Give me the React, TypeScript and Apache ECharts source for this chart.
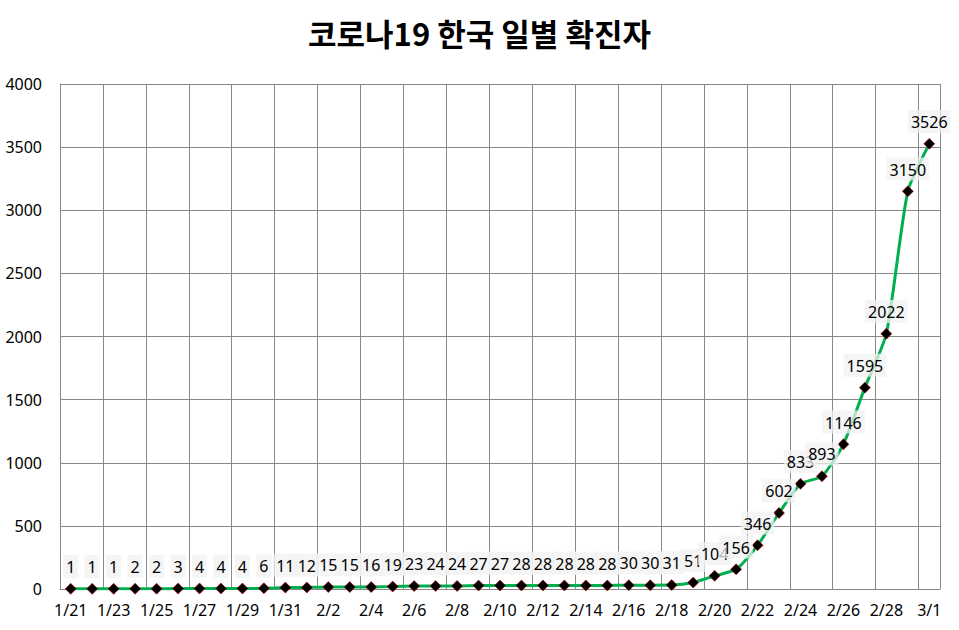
import React, { useEffect, useRef } from "react";
import * as echarts from "echarts";

const categories = [
  "1/21","1/22","1/23","1/24","1/25","1/26","1/27","1/28","1/29","1/30","1/31",
  "2/1","2/2","2/3","2/4","2/5","2/6","2/7","2/8","2/9","2/10","2/11","2/12","2/13","2/14",
  "2/15","2/16","2/17","2/18","2/19","2/20","2/21","2/22","2/23","2/24","2/25","2/26","2/27",
  "2/28","2/29","3/1",
];
const confirmed = [
  1, 1, 1, 2, 2, 3, 4, 4, 4, 6, 11, 12, 15, 15, 16, 19, 23, 24, 24, 27,
  27, 28, 28, 28, 28, 28, 30, 30, 31, 51, 104, 156, 346, 602, 833, 893, 1146, 1595, 2022, 3150,
  3526,
];
const title = "코로나19 한국 일별 확진자";

export default function App() {
  const ref = useRef<HTMLDivElement>(null);
  useEffect(() => {
    if (!ref.current) return;
    const chart = echarts.init(ref.current, null, { renderer: "svg" });
    const font = "'Noto Sans', sans-serif";
    chart.setOption({
      animation: false,
      backgroundColor: "#ffffff",
      title: {
        text: title,
        left: "center",
        top: 12,
        textStyle: {
          fontFamily: "'Noto Sans CJK KR', sans-serif",
          fontSize: 31,
          fontWeight: "bold",
          color: "#000",
        },
      },
      grid: { left: 60, top: 84, right: 19, bottom: 41, containLabel: false },
      xAxis: {
        type: "category",
        data: categories,
        boundaryGap: true,
        axisLine: { lineStyle: { color: "#888", width: 1 } },
        axisTick: { show: false, interval: 1 },
        axisLabel: {
          interval: 1,
          color: "#000",
          fontFamily: font,
          fontSize: 16,
          margin: 13,
        },
        splitLine: { show: true, interval: 1, lineStyle: { color: "#888", width: 1 } },
      },
      yAxis: {
        type: "value",
        min: 0,
        max: 4000,
        interval: 500,
        axisLine: { show: true, lineStyle: { color: "#888", width: 1 } },
        axisTick: { show: false },
        axisLabel: {
          color: "#000",
          fontFamily: font,
          fontSize: 16,
          margin: 18,
          formatter: (v: number) => String(v),
        },
        splitLine: { lineStyle: { color: "#888", width: 1 } },
      },
      series: [
        {
          type: "line",
          data: confirmed,
          smooth: 0.2,
          symbol: "diamond",
          symbolSize: 11,
          lineStyle: { color: "#00b050", width: 3 },
          itemStyle: { color: "#000", borderColor: "#c00000", borderWidth: 0.6 },
          label: {
            show: true,
            position: "top",
            distance: 5,
            color: "#000",
            fontFamily: font,
            fontSize: 16,
            backgroundColor: "rgba(242,242,242,0.75)",
            padding: [4, 3, 3, 3],
          },
        },
      ],
    });
    return () => chart.dispose();
  }, []);
  return (
    <div
      ref={ref}
      style={{ position: "fixed", left: 0, top: 0, width: 959, height: 630 }}
    />
  );
}
